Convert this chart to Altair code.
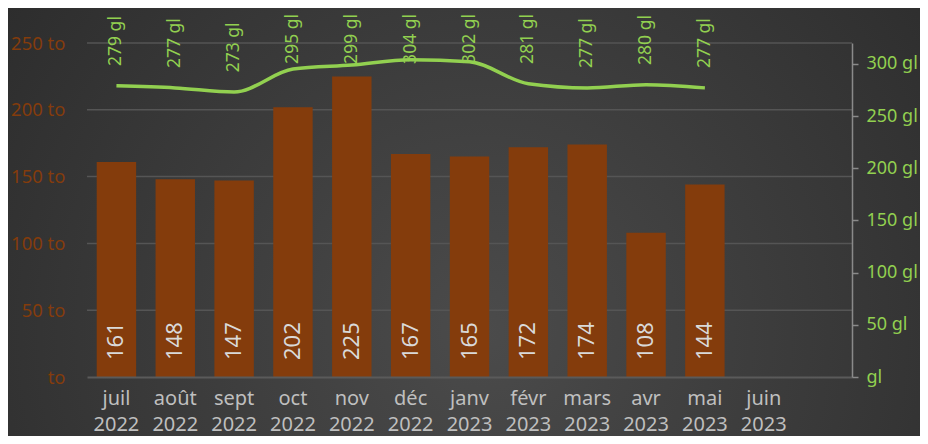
import altair as alt
import pandas as pd

months = ["juil 2022", "août 2022", "sept 2022", "oct 2022", "nov 2022", "déc 2022",
          "janv 2023", "févr 2023", "mars 2023", "avr 2023", "mai 2023", "juin 2023", " "]
tonnes = [161, 148, 147, 202, 225, 167, 165, 172, 174, 108, 144, None, None]
gl_values = [279, 277, 273, 295, 299, 304, 302, 281, 277, 280, 277, None, None]
grid_values = [50, 100, 150, 200, 250]
left_ticks = [0, 50, 100, 150, 200, 250]
right_ticks = [0, 50, 100, 150, 200, 250, 300]

df = pd.DataFrame({"mois": months, "to": tonnes, "gl": gl_values})
grid_df = pd.DataFrame({"v": grid_values})

FONT = "Noto Sans"
BROWN = "#843C0C"
GREEN = "#92D050"

W, H = 765, 334
PL, PT, PR, PB = 79, 35, 68, 59

xenc = alt.X("mois:N", sort=months,
             scale=alt.Scale(paddingInner=0.33, paddingOuter=0.165),
             axis=alt.Axis(title=None, labelAngle=0, labelExpr="split(datum.label, ' ')",
                           labelColor="#bfbfbf", labelFontSize=20, labelFont=FONT,
                           labelLineHeight=26, labelPadding=11, ticks=False,
                           domainColor="#5a5a5a", domainWidth=2, grid=False,
                           labelBaseline="top", zindex=2))

yleft = alt.Scale(domain=[0, 250], nice=False)
yright = alt.Scale(domain=[0, 320], nice=False)

left_axis = alt.Axis(title=None, values=left_ticks,
                     labelExpr="datum.value == 0 ? 'to' : datum.value + ' to'",
                     labelColor=BROWN, labelFontSize=18.5, labelFont=FONT,
                     labelPadding=22, ticks=False, domain=False, grid=False, zindex=2)

bg = alt.Chart(alt.Data(values=[{}])).mark_rect(
    clip=False,
    color=alt.RadialGradient(
        gradient="radial", x1=0.52, y1=0.62, x2=0.52, y2=0.62, r1=0, r2=0.78,
        stops=[alt.GradientStop(offset=0, color="#4b4b4b"),
               alt.GradientStop(offset=1, color="#262626")])
).encode(x=alt.value(-PL), x2=alt.value(W + PR), y=alt.value(-PT), y2=alt.value(H + PB))

grid = alt.Chart(grid_df).mark_rule(color="#555555", strokeWidth=1.5).encode(
    y=alt.Y("v:Q", scale=yleft, axis=left_axis))

bars = alt.Chart(df).mark_bar(color=BROWN).encode(
    x=xenc,
    y=alt.Y("to:Q", scale=yleft, axis=left_axis))

bar_labels = alt.Chart(df).mark_text(
    angle=270, align="left", baseline="middle", dx=17,
    color="#d9d9d9", fontSize=22, font=FONT
).transform_filter("datum.to != null").transform_calculate(base="0").encode(
    x=alt.X("mois:N", sort=months),
    y=alt.Y("base:Q", scale=yleft, axis=left_axis),
    text=alt.Text("to:Q"))

left = alt.layer(bg, grid, bars, bar_labels)

right_axis = alt.Axis(title=None, orient="right", values=right_ticks,
                      labelExpr="datum.value == 0 ? 'gl' : datum.value + ' gl'",
                      labelColor=GREEN, labelFontSize=18, labelFont=FONT,
                      labelPadding=8, tickSize=6, tickColor="#8a8a8a", tickWidth=1.5,
                      domainColor="#8a8a8a", domainWidth=1.5, grid=False, zindex=2)

line = alt.Chart(df).mark_line(color=GREEN, strokeWidth=3.5, interpolate="monotone").encode(
    x=alt.X("mois:N", sort=months),
    y=alt.Y("gl:Q", scale=yright, axis=right_axis))

line_labels = alt.Chart(df).mark_text(
    angle=270, align="left", baseline="middle", color=GREEN, fontSize=17.5, font=FONT
).transform_filter("datum.gl != null").transform_calculate(
    pos="min(datum.gl + 19, 300)", lab="datum.gl + ' gl'"
).encode(
    x=alt.X("mois:N", sort=months),
    y=alt.Y("pos:Q", scale=yright, axis=right_axis),
    text="lab:N")

right = alt.layer(line, line_labels)

chart = alt.layer(left, right).resolve_scale(y="independent").properties(
    width=W, height=H,
    autosize=alt.AutoSizeParams(type="none"),
    padding={"left": PL, "top": PT, "right": PR, "bottom": PB},
    background="#2b2b2b"
).configure_view(stroke=None)

chart.save("out.html", embed_options={"renderer": "svg", "actions": False})
